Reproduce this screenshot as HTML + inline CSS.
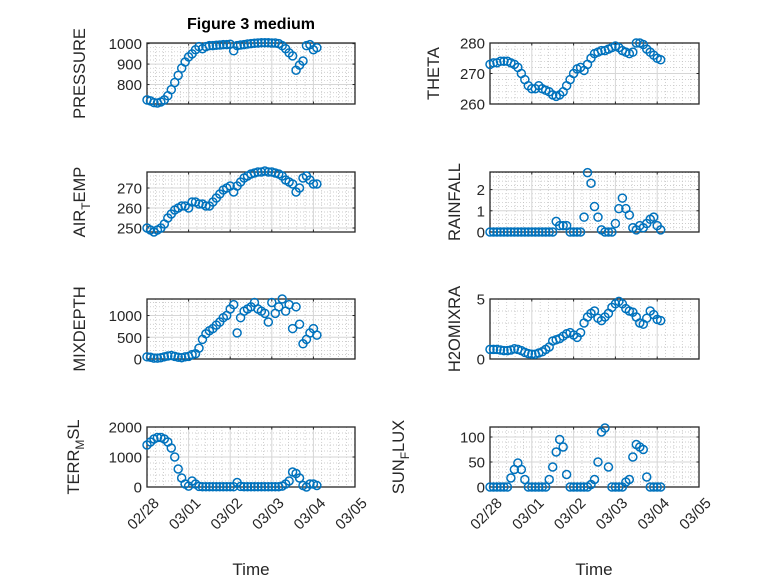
<!DOCTYPE html>
<html><head><meta charset="utf-8"><style>
html,body{margin:0;padding:0;background:#fff;}
svg{display:block;font-family:"Liberation Sans",sans-serif;}
</style></head><body>
<svg id="fig" width="778" height="583" viewBox="0 0 778 583" xmlns="http://www.w3.org/2000/svg">
<rect width="778" height="583" fill="#fff"/>
<text x="251" y="29" text-anchor="middle" font-size="16" font-weight="bold" fill="#000">Figure 3 medium</text>
<text x="251" y="575" text-anchor="middle" font-size="17" fill="#262626">Time</text>
<text x="594" y="575" text-anchor="middle" font-size="17" fill="#262626">Time</text>
</svg>
<script>
const hours = [0,2,4,6,8,10,12,14,16,18,20,22,24,26,28,30,32,34,36,38,40,42,44,46,48,50,52,54,56,58,60,62,64,66,68,70,72,74,76,78,80,82,84,86,88,90,92,94,96,98];
const xTickLabels = ["02/28","03/01","03/02","03/03","03/04","03/05"];
const pressure = [725,720,712,710,715,725,745,775,810,845,880,910,935,950,970,985,975,985,990,990,992,993,995,995,997,965,990,993,995,998,1000,1002,1003,1004,1004,1004,1003,1003,1000,990,975,955,940,870,895,915,990,995,970,980];
const airTemp = [250,249,248,249,250,252,255,257,259,260,261,261,260,263,263,262,262,261,261,263,265,267,269,270,271,268,271,273,275,276,277,277.5,278,278,278.5,278,278,277.5,277,276,274,273,272,268,270,275,276,274,272,272];
const mixDepth = [50,40,20,20,30,50,70,80,60,40,30,50,60,100,120,250,450,580,650,700,780,850,950,1000,1150,1250,600,950,1100,1150,1200,1300,1150,1100,1050,850,1300,1050,1200,1380,1100,1250,700,1200,800,350,450,600,700,550];
const terrMsl = [1400,1500,1600,1650,1650,1600,1500,1300,1000,600,300,100,30,200,100,20,10,10,10,10,10,10,10,10,10,10,150,20,10,10,10,10,10,10,10,10,10,10,10,30,100,200,500,450,300,50,0,100,100,50];
const theta = [273,273.5,273.5,274,274,274,273.5,273,272,270,268,266,265,265,266,265,264.5,264,263,262.5,263,264,266,268,270,271.5,272,271,273,275,276.5,277,277.5,277.5,278,278.5,279,278.5,277.5,277,276.5,277,280,280,279.5,278,277,276,275,274.5];
const rainfall = [0,0,0,0,0,0,0,0,0,0,0,0,0,0,0,0,0,0,0,0.5,0.3,0.3,0.3,0,0,0,0,0.7,2.8,2.3,1.2,0.7,0.1,0,0,0,0.4,1.1,1.6,1.1,0.8,0.2,0.1,0.3,0.2,0.4,0.6,0.7,0.3,0.1];
const h2oMix = [0.8,0.8,0.8,0.75,0.7,0.7,0.75,0.85,0.8,0.7,0.55,0.45,0.4,0.4,0.5,0.6,0.8,1.0,1.5,1.6,1.7,1.9,2.1,2.2,2.0,1.8,2.2,3.0,3.5,3.8,4.0,3.4,3.2,3.5,3.8,4.3,4.6,4.8,4.6,4.2,4.0,3.9,3.5,3.0,2.9,3.4,4.0,3.7,3.3,3.2];
const sunFlux = [0,0,0,0,0,0,18,35,48,35,15,0,0,0,0,0,0,15,40,70,95,80,25,0,0,0,0,0,0,5,15,50,110,118,40,0,0,0,0,10,15,60,85,80,75,20,0,0,0,0];
const ticksPressure = [800,900,1000];
const ticksAir = [250,260,270];
const ticksMix = [0,500,1000];
const ticksTerr = [0,1000,2000];
const ticksTheta = [260,270,280];
const ticksRain = [0,1,2];
const ticksH2o = [0,5];
const ticksSun = [0,50,100];

const NS = "http://www.w3.org/2000/svg";
const svg = document.getElementById('fig');
function mk(tag, attrs, parent) {
  const e = document.createElementNS(NS, tag);
  for (const k in attrs) e.setAttribute(k, attrs[k]);
  (parent || svg).appendChild(e);
  return e;
}
const panels = [
  {key:'pressure', label:'PRESSURE', data:pressure, ticks:ticksPressure, ylim:[705,1003], minor:20, col:0, row:0, lx:85},
  {key:'theta', label:'THETA', data:theta, ticks:ticksTheta, ylim:[260,280], minor:2, col:1, row:0, lx:439},
  {key:'air-temp', label:['AIR','T','EMP'], data:airTemp, ticks:ticksAir, ylim:[248,278], minor:2, col:0, row:1, lx:85},
  {key:'rainfall', label:'RAINFALL', data:rainfall, ticks:ticksRain, ylim:[0,2.83], minor:0.2, col:1, row:1, lx:460},
  {key:'mixdepth', label:'MIXDEPTH', data:mixDepth, ticks:ticksMix, ylim:[0,1380], minor:100, col:0, row:2, lx:85},
  {key:'h2omixra', label:'H2OMIXRA', data:h2oMix, ticks:ticksH2o, ylim:[0,5], minor:1, col:1, row:2, lx:460},
  {key:'terr-msl', label:['TERR','M','SL'], data:terrMsl, ticks:ticksTerr, ylim:[0,2000], minor:200, col:0, row:3, lx:79},
  {key:'sun-flux', label:['SUN','F','LUX'], data:sunFlux, ticks:ticksSun, ylim:[0,120], minor:10, col:1, row:3, lx:404}
];
const cols = [[147,355],[490,699]];
const rows = [[43,104],[172,232],[299,359],[427,487]];

panels.forEach(p => {
  const [x0,x1] = cols[p.col];
  const [y0,y1] = rows[p.row];
  const g = mk('g', {});
  
  
  const xs = d => x0 + (d/5)*(x1-x0);
  const ys = v => y1 - (v-p.ylim[0])/(p.ylim[1]-p.ylim[0])*(y1-y0);
  for (let i=0;i<25;i++){ if(i%5===0) continue; const x=xs(i/5);
    const l = mk('line',{x1:x,x2:x,y1:y0,y2:y1,stroke:'#bdbdbd','stroke-width':0.7,'stroke-dasharray':'1,2'},g);
      }
  for (let v=Math.ceil(p.ylim[0]/p.minor)*p.minor; v<p.ylim[1]; v+=p.minor){
    const st = p.ticks[1]-p.ticks[0];
    const isMajor = Math.abs(v/st - Math.round(v/st))<1e-6;
    if(isMajor) continue; const y=ys(v);
    const l = mk('line',{x1:x0,x2:x1,y1:y,y2:y,stroke:'#bdbdbd','stroke-width':0.7,'stroke-dasharray':'1,2'},g);
      }
  xTickLabels.forEach((lab,i)=>{ const x=xs(i);
    const l = mk('line',{x1:x,x2:x,y1:y0,y2:y1,stroke:'#d6d6d6','stroke-width':1},g);
     
    mk('line',{x1:x,x2:x,y1:y1,y2:y1-2.5,stroke:'#262626','stroke-width':1},g);
    mk('line',{x1:x,x2:x,y1:y0,y2:y0+2.5,stroke:'#262626','stroke-width':1},g);
    if(p.row===3){
      const t = mk('text',{transform:`translate(${x+5},${y1+9}) rotate(-45)`,'text-anchor':'end','font-size':15,fill:'#262626',dy:'0.75em'},g);
       
      t.textContent = lab;
    }
  });
  p.ticks.forEach(v=>{ const y=ys(v);
    const l = mk('line',{x1:x0,x2:x1,y1:y,y2:y,stroke:'#d6d6d6','stroke-width':1},g);
     
    mk('line',{x1:x0,x2:x0+2.5,y1:y,y2:y,stroke:'#262626','stroke-width':1},g);
    mk('line',{x1:x1,x2:x1-2.5,y1:y,y2:y,stroke:'#262626','stroke-width':1},g);
    const t = mk('text',{x:x0-5,y:y+5.5,'text-anchor':'end','font-size':15,fill:'#262626'},g);
     
    t.textContent = String(v);
  });
  const box = mk('rect',{x:x0,y:y0,width:x1-x0,height:y1-y0,fill:'none',stroke:'#262626','stroke-width':1.3},g);
  
  
  const cy = (y0+y1)/2;
  const t = mk('text',{transform:`translate(${p.lx},${cy}) rotate(-90)`,'text-anchor':'middle','font-size':16.5,fill:'#262626'},g);
  
  
  if (Array.isArray(p.label)) {
    const a = mk('tspan',{},t); a.textContent = p.label[0];
    const b = mk('tspan',{dy:5,'font-size':12},t); b.textContent = p.label[1];
    const c = mk('tspan',{dy:-5},t); c.textContent = p.label[2];
  } else t.textContent = p.label;
  p.data.forEach((v,i)=>{
    const c = mk('circle',{cx:xs(hours[i]/24),cy:ys(v),r:4,fill:'none',stroke:'#0072BD','stroke-width':1.5},g);
    
    
  });
});
</script>
</body></html>
